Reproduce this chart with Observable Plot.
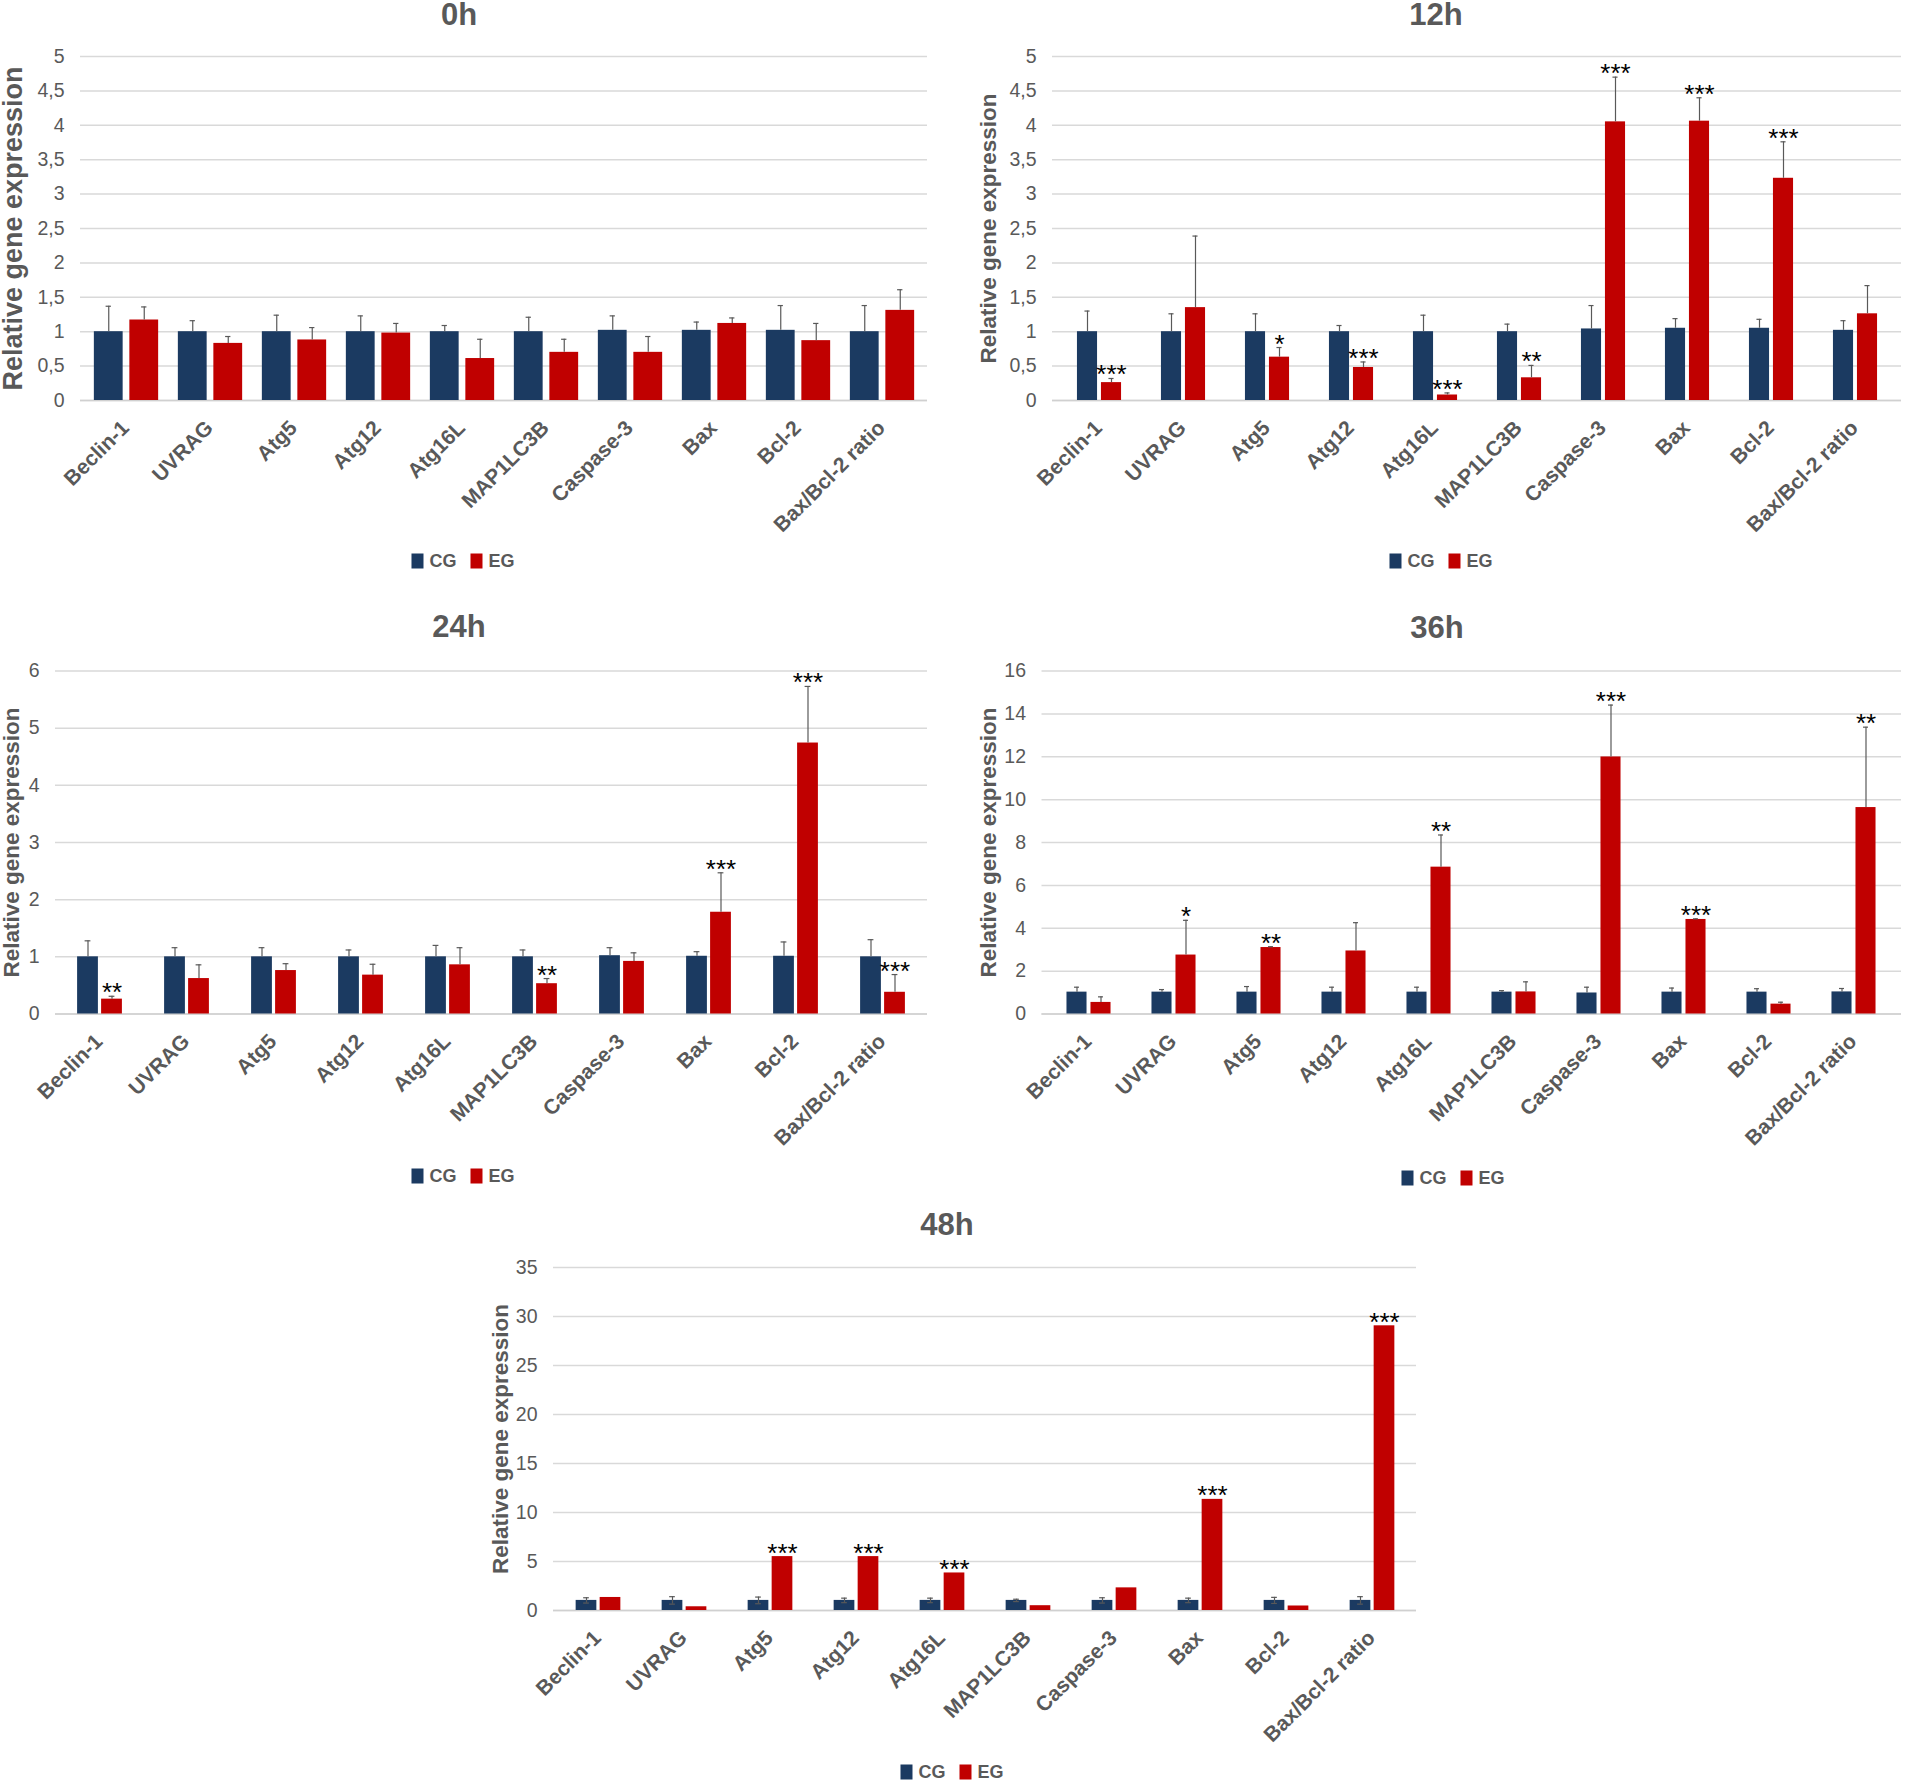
<!DOCTYPE html>
<html>
<head>
<meta charset="utf-8">
<script src="https://cdn.jsdelivr.net/npm/d3@7"></script>
<script src="https://cdn.jsdelivr.net/npm/@observablehq/plot@0.6"></script>
<style>
  html, body { margin: 0; padding: 0; background: #fff; }
  body { width: 1907px; height: 1783px; position: relative; overflow: hidden; font-family: "Liberation Sans", Arial, sans-serif; }
  .title { position: absolute; font-weight: bold; font-size: 31px; color: #595959; transform: translate(-50%, -50%); white-space: nowrap; }
  .legend { position: absolute; transform: translate(-50%, -50%); display: flex; align-items: center; font-weight: bold; font-size: 18px; color: #595959; white-space: nowrap; }
  .legend .item { display: flex; align-items: center; }
  .legend .item + .item { margin-left: 14px; }
  .legend .sw { display: inline-block; width: 12px; height: 15px; margin-right: 6px; }
  .panel { position: absolute; }
  .panel svg { overflow: visible; }
  g[aria-label="x-axis tick label"] text { font-weight: bold; }
</style>
</head>
<body>
<script>
// ---------- data ----------
const genes = ["Beclin-1", "UVRAG", "Atg5", "Atg12", "Atg16L", "MAP1LC3B", "Caspase-3", "Bax", "Bcl-2", "Bax/Bcl-2 ratio"];
const groups = ["CG", "EG"];

const ticks0h  = [0, 0.5, 1, 1.5, 2, 2.5, 3, 3.5, 4, 4.5, 5];
const ticks12h = [0, 0.5, 1, 1.5, 2, 2.5, 3, 3.5, 4, 4.5, 5];
const ticks24h = [0, 1, 2, 3, 4, 5, 6];
const ticks36h = [0, 2, 4, 6, 8, 10, 12, 14, 16];
const ticks48h = [0, 5, 10, 15, 20, 25, 30, 35];

const cg0h     = [1.00, 1.00, 1.00, 1.00, 1.00, 1.00, 1.02, 1.02, 1.02, 1.00];
const cg0hErr  = [0.37, 0.16, 0.24, 0.23, 0.09, 0.21, 0.21, 0.12, 0.36, 0.38];
const eg0h     = [1.17, 0.83, 0.88, 0.98, 0.61, 0.70, 0.70, 1.12, 0.87, 1.31];
const eg0hErr  = [0.19, 0.10, 0.18, 0.14, 0.28, 0.19, 0.23, 0.08, 0.25, 0.30];
const stars0h  = ["", "", "", "", "", "", "", "", "", ""];

const cg12h    = [1.00, 1.00, 1.00, 1.00, 1.00, 1.00, 1.04, 1.05, 1.05, 1.02];
const cg12hErr = [0.30, 0.26, 0.26, 0.09, 0.24, 0.11, 0.34, 0.14, 0.13, 0.14];
const eg12h    = [0.26, 1.35, 0.63, 0.48, 0.08, 0.33, 4.05, 4.06, 3.23, 1.26];
const eg12hErr = [0.06, 1.04, 0.14, 0.08, 0.03, 0.18, 0.65, 0.34, 0.53, 0.41];
const stars12h = ["***", "", "*", "***", "***", "**", "***", "***", "***", ""];

const cg24h    = [1.00, 1.00, 1.00, 1.00, 1.00, 1.00, 1.02, 1.01, 1.01, 1.00];
const cg24hErr = [0.28, 0.16, 0.16, 0.12, 0.20, 0.12, 0.14, 0.08, 0.25, 0.30];
const eg24h    = [0.26, 0.62, 0.76, 0.68, 0.86, 0.53, 0.92, 1.78, 4.74, 0.38];
const eg24hErr = [0.05, 0.24, 0.12, 0.19, 0.30, 0.09, 0.15, 0.69, 0.99, 0.31];
const stars24h = ["**", "", "", "", "", "**", "", "***", "***", "***"];

const cg36h    = [1.02, 1.02, 1.02, 1.02, 1.02, 1.02, 0.98, 1.02, 1.02, 1.03];
const cg36hErr = [0.23, 0.12, 0.26, 0.23, 0.23, 0.07, 0.27, 0.19, 0.16, 0.16];
const eg36h    = [0.54, 2.75, 3.10, 2.94, 6.85, 1.03, 11.99, 4.41, 0.46, 9.63];
const eg36hErr = [0.26, 1.62, 0.04, 1.32, 1.50, 0.47, 2.42, 0.03, 0.09, 3.75];
const stars36h = ["", "*", "**", "", "**", "", "***", "***", "", "**"];

const cg48h    = [1.03, 1.03, 1.03, 1.03, 1.03, 1.03, 1.03, 1.03, 1.03, 1.03];
const cg48hErr = [0.27, 0.38, 0.34, 0.23, 0.23, 0.12, 0.27, 0.23, 0.31, 0.38];
const eg48h    = [1.33, 0.38, 5.50, 5.50, 3.83, 0.49, 2.31, 11.34, 0.46, 29.05];
const eg48hErr = [0, 0, 0, 0, 0, 0, 0, 0, 0, 0];
const stars48h = ["", "", "***", "***", "***", "", "", "***", "", "***"];

const yLabel = "Relative gene expression";

// ---------- style / layout ----------
const NAVY = "#1B3A61";
const RED = "#C00000";
const GRAY = "#595959";

const panels = [
  {title: "0h", cg: cg0h, cgErr: cg0hErr, eg: eg0h, egErr: eg0hErr, stars: stars0h, ticks: ticks0h, both: false,
   box: {left: 0, top: 26, width: 940, mL: 80, mR: 13, mT: 30, ph: 344, mB: 130}, bar: {w: 29.5, gap: 3},
   ylab: {dx: -67, size: 27}, titlePos: [459, 15], legendPos: [463, 561]},
  {title: "12h", cg: cg12h, cgErr: cg12hErr, eg: eg12h, egErr: eg12hErr, stars: stars12h, ticks: ticks12h, both: false,
   box: {left: 950, top: 26, width: 957, mL: 102, mR: 6, mT: 30, ph: 344, mB: 130}, bar: {w: 21, gap: 1.5},
   ylab: {dx: -64, size: 22.5}, titlePos: [1436, 15], legendPos: [1441, 561]},
  {title: "24h", cg: cg24h, cgErr: cg24hErr, eg: eg24h, egErr: eg24hErr, stars: stars24h, ticks: ticks24h, both: false,
   box: {left: 0, top: 640, width: 940, mL: 55, mR: 13, mT: 30.5, ph: 343, mB: 130}, bar: {w: 21, gap: 1.5},
   ylab: {dx: -44, size: 22.5}, titlePos: [459, 627], legendPos: [463, 1176]},
  {title: "36h", cg: cg36h, cgErr: cg36hErr, eg: eg36h, egErr: eg36hErr, stars: stars36h, ticks: ticks36h, both: false,
   box: {left: 950, top: 640, width: 957, mL: 91.5, mR: 6, mT: 30.5, ph: 343, mB: 130}, bar: {w: 21, gap: 1.5},
   ylab: {dx: -53.5, size: 22.5}, titlePos: [1437, 628], legendPos: [1453, 1178]},
  {title: "48h", cg: cg48h, cgErr: cg48hErr, eg: eg48h, egErr: eg48hErr, stars: stars48h, ticks: ticks48h, both: true,
   box: {left: 450, top: 1240, width: 980, mL: 103, mR: 14, mT: 27, ph: 343, mB: 130}, bar: {w: 21, gap: 1.5},
   ylab: {dx: -53, size: 22.5}, titlePos: [947, 1225], legendPos: [952, 1772]}
];

const fmt = d => String(d).replace(".", ",");

function render(p) {
  const {left, top, width, mL, mR, mT, ph, mB} = p.box;
  const height = mT + ph + mB;
  const bw = (width - mL - mR) / genes.length;
  const w = p.bar.w, g = p.bar.gap;
  const offC = -(g + w / 2), offE = g + w / 2;
  const cap = 6;
  const capInset = off => ({insetLeft: bw / 2 + off - cap / 2, insetRight: bw / 2 - off - cap / 2});

  const cgRows = genes.map((gene, i) => ({gene, group: groups[0], value: p.cg[i], err: p.cgErr[i]}));
  const egRows = genes.map((gene, i) => ({gene, group: groups[1], value: p.eg[i], err: p.egErr[i], star: p.stars[i]}));
  const cgE = cgRows.filter(d => d.err > 0);
  const egE = egRows.filter(d => d.err > 0);
  const ymax = p.ticks[p.ticks.length - 1];

  const marks = [
    Plot.gridY(p.ticks, {stroke: "#d9d9d9", strokeOpacity: 1, strokeWidth: 1.5}),
    Plot.ruleY([0], {stroke: "#d0d0d0", strokeWidth: 1.5}),
    Plot.barY(cgRows, {x: "gene", y: "value", fill: NAVY, insetLeft: bw / 2 - g - w, insetRight: bw / 2 + g}),
    Plot.barY(egRows, {x: "gene", y: "value", fill: RED, insetLeft: bw / 2 + g, insetRight: bw / 2 - g - w}),
    Plot.ruleX(cgE, {x: "gene", y1: d => p.both ? d.value - d.err : d.value, y2: d => d.value + d.err, dx: offC, stroke: GRAY, strokeWidth: 1.2}),
    Plot.tickY(cgE, {x: "gene", y: d => d.value + d.err, ...capInset(offC), stroke: GRAY, strokeWidth: 1.2}),
    Plot.ruleX(egE, {x: "gene", y1: d => p.both ? d.value - d.err : d.value, y2: d => d.value + d.err, dx: offE, stroke: GRAY, strokeWidth: 1.2}),
    Plot.tickY(egE, {x: "gene", y: d => d.value + d.err, ...capInset(offE), stroke: GRAY, strokeWidth: 1.2}),
    Plot.text(egRows.filter(d => d.star), {x: "gene", y: d => d.value + d.err, text: "star", dx: offE, dy: 5,
      fontSize: 26, fill: "#000", textAnchor: "middle", lineAnchor: "bottom"}),
    Plot.axisY(p.ticks, {tickSize: 0, tickPadding: 16, tickFormat: fmt, fontSize: 19.5, label: null}),
    Plot.axisX({tickSize: 0, tickRotate: -45, tickPadding: 24, dx: -1, fontSize: 21, fontWeight: "bold", label: null}),
    Plot.text([yLabel], {text: d => d, frameAnchor: "left", rotate: -90, dx: p.ylab.dx, fontSize: p.ylab.size,
      fontWeight: "bold", fill: GRAY, textAnchor: "middle", lineAnchor: "middle"})
  ];
  if (p.both) {
    marks.push(Plot.tickY(cgE, {x: "gene", y: d => d.value - d.err, ...capInset(offC), stroke: GRAY, strokeWidth: 1.2}));
  }

  const chart = Plot.plot({
    width, height, marginLeft: mL, marginRight: mR, marginTop: mT, marginBottom: mB,
    style: {fontFamily: "'Liberation Sans', Arial, sans-serif", color: GRAY, background: "transparent", overflow: "visible"},
    x: {type: "band", domain: genes, padding: 0, label: null},
    y: {domain: [0, ymax], label: null},
    marks
  });

  const wrap = document.createElement("div");
  wrap.className = "panel";
  wrap.style.left = left + "px";
  wrap.style.top = top + "px";
  wrap.appendChild(chart);
  document.body.appendChild(wrap);

  const t = document.createElement("div");
  t.className = "title";
  t.textContent = p.title;
  t.style.left = p.titlePos[0] + "px";
  t.style.top = p.titlePos[1] + "px";
  document.body.appendChild(t);

  const lg = document.createElement("div");
  lg.className = "legend";
  lg.style.left = p.legendPos[0] + "px";
  lg.style.top = p.legendPos[1] + "px";
  [[groups[0], NAVY], [groups[1], RED]].forEach(([name, col]) => {
    const it = document.createElement("span");
    it.className = "item";
    const sw = document.createElement("span");
    sw.className = "sw";
    sw.style.background = col;
    it.appendChild(sw);
    it.appendChild(document.createTextNode(name));
    lg.appendChild(it);
  });
  document.body.appendChild(lg);
}

panels.forEach(render);
</script>
</body>
</html>
